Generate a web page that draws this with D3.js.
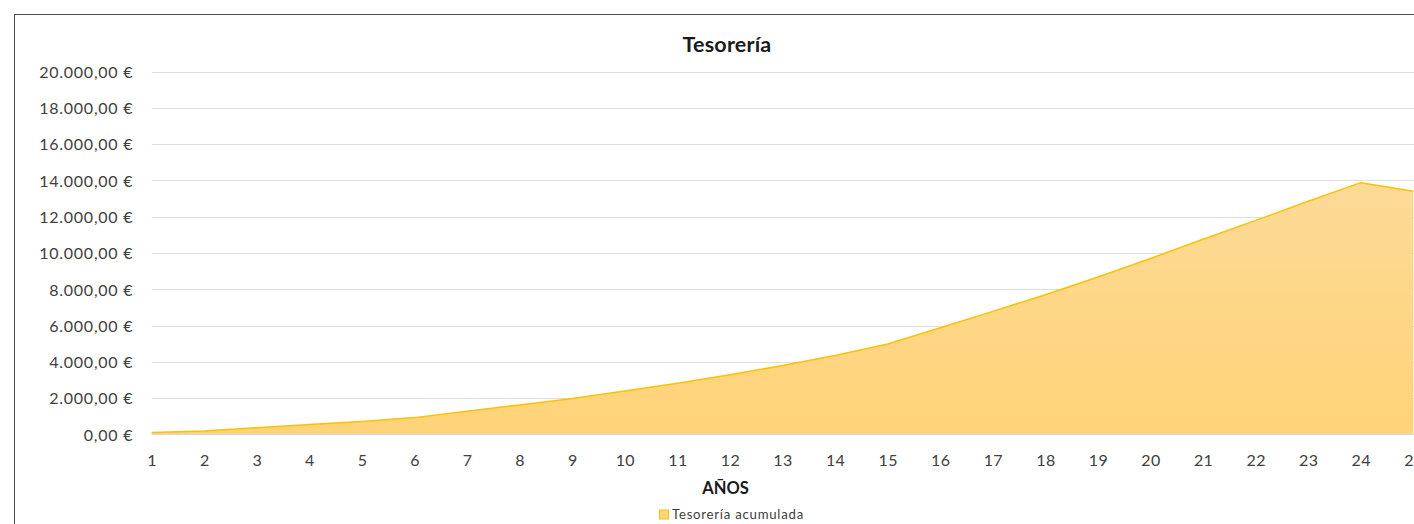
<!DOCTYPE html>
<html>
<head>
<meta charset="utf-8">
<script src="https://cdn.jsdelivr.net/npm/d3@7"></script>
<style>
  html, body { margin: 0; padding: 0; background: #fff; overflow: hidden; }
  svg { display: block; font-family: Lato, "Open Sans", sans-serif; }
</style>
</head>
<body>
<svg id="chart" width="1414" height="524"></svg>
<script>
// Years shown on the category axis
const years = d3.range(1, 26);
// Accumulated treasury per year (€)
const tesoreriaAcumulada = [
  100, 180, 360, 540, 710, 920, 1270, 1620, 1970, 2390,
  2810, 3290, 3790, 4350, 4980, 5880, 6780, 7700, 8680, 9700,
  10760, 11800, 12850, 13880, 13400
];
// Value axis ticks (€)
const yTicks = d3.range(0, 20001, 2000);

const title = "Tesorería";
const xTitle = "AÑOS";
const seriesName = "Tesorería acumulada";

const svg = d3.select("#chart");

// Outer chart frame (continues beyond the visible canvas on right/bottom)
svg.append("rect")
  .attr("x", 14.5).attr("y", 14.5)
  .attr("width", 1430).attr("height", 540)
  .attr("fill", "#fff")
  .attr("stroke", "#4d4d4d").attr("stroke-width", 1);

const x = d3.scalePoint()
  .domain(years)
  .range([151.7, 151.7 + 24 * 52.57]);

const y = d3.scaleLinear()
  .domain([0, 20000])
  .range([434.3, 71.7]);

const fmt = v => {
  const s = d3.format(",.2f")(v); // 20,000.00
  return s.replace(/,/g, "#").replace(".", ",").replace(/#/g, ".") + " €";
};

// Horizontal gridlines
svg.append("g")
  .selectAll("line")
  .data(yTicks.filter(d => d > 0))
  .join("line")
  .attr("x1", x(1)).attr("x2", 1450)
  .attr("y1", d => Math.round(y(d)) + 0.5)
  .attr("y2", d => Math.round(y(d)) + 0.5)
  .attr("stroke", "#dedede").attr("stroke-width", 1.2);

// Gradient fill for the area
const defs = svg.append("defs");
const grad = defs.append("linearGradient")
  .attr("id", "areaFill")
  .attr("gradientUnits", "userSpaceOnUse")
  .attr("x1", 0).attr("x2", 0)
  .attr("y1", y(d3.max(tesoreriaAcumulada))).attr("y2", y(0));
grad.append("stop").attr("offset", "0%").attr("stop-color", "#fcda97");
grad.append("stop").attr("offset", "100%").attr("stop-color", "#ffd378");

const pts = years.map((yr, i) => ({ yr, v: tesoreriaAcumulada[i] }));

svg.append("path")
  .datum(pts)
  .attr("fill", "url(#areaFill)")
  .attr("d", d3.area().x(d => x(d.yr)).y0(y(0)).y1(d => y(d.v)));

// Category axis baseline
svg.append("line")
  .attr("x1", x(1)).attr("x2", 1450)
  .attr("y1", y(0)).attr("y2", y(0))
  .attr("stroke", "#d6d8dc").attr("stroke-width", 1.3);

svg.append("path")
  .datum(pts)
  .attr("fill", "none")
  .attr("stroke", "#ffc000")
  .attr("stroke-width", 1.5)
  .attr("stroke-linejoin", "round")
  .attr("d", d3.line().x(d => x(d.yr)).y(d => y(d.v)));

// Value axis labels
const yAxis = d3.axisLeft(y).tickValues(yTicks).tickFormat(fmt).tickSize(0).tickPadding(0);
const gy = svg.append("g")
  .attr("transform", "translate(133.2,0)")
  .call(yAxis);
gy.select(".domain").remove();
gy.selectAll("text")
  .attr("font-family", "Lato, sans-serif")
  .attr("font-size", 16)
  .attr("letter-spacing", "0.75px")
  .attr("fill", "#404040")
  .attr("dy", "0.36em");

// Category axis labels
const xAxis = d3.axisBottom(x).tickSize(0).tickPadding(0);
const gx = svg.append("g")
  .attr("transform", `translate(0,${y(0)})`)
  .call(xAxis);
gx.select(".domain").remove();
gx.selectAll("text")
  .attr("font-family", "Lato, sans-serif")
  .attr("font-size", 16)
  .attr("letter-spacing", "0.4px")
  .attr("fill", "#404040")
  .attr("dy", 0)
  .attr("y", 32);

// Title
svg.append("text")
  .attr("x", 727).attr("y", 52.3)
  .attr("text-anchor", "middle")
  .attr("font-size", 21.5).attr("font-weight", "bold")
  .attr("letter-spacing", "0.2px")
  .attr("fill", "#1a1a1a")
  .text(title);

// Category axis title
svg.append("text")
  .attr("x", 725.5).attr("y", 494)
  .attr("text-anchor", "middle")
  .attr("font-size", 16.5).attr("font-weight", "bold")
  .attr("fill", "#1a1a1a")
  .text(xTitle);

// Legend
const lg = svg.append("g").attr("transform", "translate(659.5,510)");
lg.append("rect")
  .attr("x", 0).attr("y", 0).attr("width", 9).attr("height", 9)
  .attr("fill", "#fdd580").attr("stroke", "#ffc000").attr("stroke-width", 1);
lg.append("text")
  .attr("x", 12.5).attr("y", 9)
  .attr("font-size", 13.2)
  .attr("letter-spacing", "0.75px")
  .attr("fill", "#404040")
  .text(seriesName);
</script>
</body>
</html>
